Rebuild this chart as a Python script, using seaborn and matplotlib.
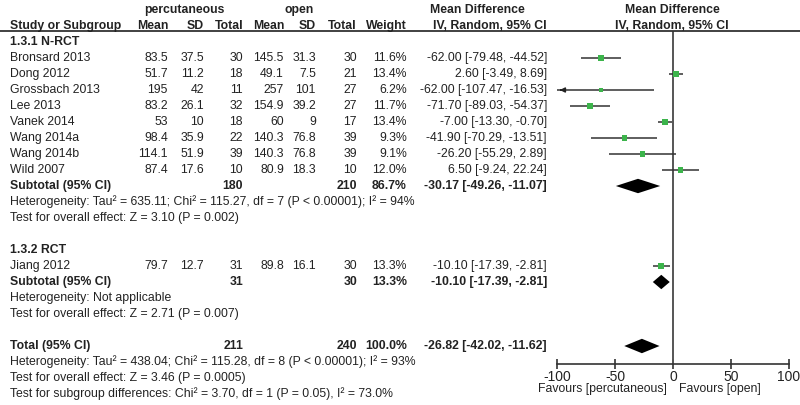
import matplotlib
matplotlib.use("Agg")
import matplotlib.pyplot as plt
import matplotlib.transforms as mtransforms
import seaborn as sns
import pandas as pd
import numpy as np

# ---- data ----
nrct_study = ["Bronsard 2013", "Dong 2012", "Grossbach 2013", "Lee 2013",
              "Vanek 2014", "Wang 2014a", "Wang 2014b", "Wild 2007"]
nrct_perc_mean = [83.5, 51.7, 195, 83.2, 53, 98.4, 114.1, 87.4]
nrct_perc_sd = [37.5, 11.2, 42, 26.1, 10, 35.9, 51.9, 17.6]
nrct_perc_n = [30, 18, 11, 32, 18, 22, 39, 10]
nrct_open_mean = [145.5, 49.1, 257, 154.9, 60, 140.3, 140.3, 80.9]
nrct_open_sd = [31.3, 7.5, 101, 39.2, 9, 76.8, 76.8, 18.3]
nrct_open_n = [30, 21, 27, 27, 17, 39, 39, 10]
nrct_weight = [11.6, 13.4, 6.2, 11.7, 13.4, 9.3, 9.1, 12.0]
nrct_md = [-62.00, 2.60, -62.00, -71.70, -7.00, -41.90, -26.20, 6.50]
nrct_lo = [-79.48, -3.49, -107.47, -89.03, -13.30, -70.29, -55.29, -9.24]
nrct_hi = [-44.52, 8.69, -16.53, -54.37, -0.70, -13.51, 2.89, 22.24]

rct_study = ["Jiang 2012"]
rct_perc_mean = [79.7]
rct_perc_sd = [12.7]
rct_perc_n = [31]
rct_open_mean = [89.8]
rct_open_sd = [16.1]
rct_open_n = [30]
rct_weight = [13.3]
rct_md = [-10.10]
rct_lo = [-17.39]
rct_hi = [-2.81]

# subtotals / total: n_perc, n_open, weight, md, lo, hi
sub_nrct = [180, 210, 86.7, -30.17, -49.26, -11.07]
sub_rct = [31, 30, 13.3, -10.10, -17.39, -2.81]
total = [211, 240, 100.0, -26.82, -42.02, -11.62]

het_nrct = "Heterogeneity: Tau\u00b2 = 635.11; Chi\u00b2 = 115.27, df = 7 (P < 0.00001); I\u00b2 = 94%"
eff_nrct = "Test for overall effect: Z = 3.10 (P = 0.002)"
het_rct = "Heterogeneity: Not applicable"
eff_rct = "Test for overall effect: Z = 2.71 (P = 0.007)"
het_tot = "Heterogeneity: Tau\u00b2 = 438.04; Chi\u00b2 = 115.28, df = 8 (P < 0.00001); I\u00b2 = 93%"
eff_tot = "Test for overall effect: Z = 3.46 (P = 0.0005)"
sub_diff = "Test for subgroup differences: Chi\u00b2 = 3.70, df = 1 (P = 0.05), I\u00b2 = 73.0%"

x_ticks = [-100, -50, 0, 50, 100]

# ---- layout ----
sns.set_theme(style="white")
plt.rcParams['font.family'] = ['Liberation Sans', 'DejaVu Sans']
FS = 8.8
W, H = 800, 405
ROW0, DY = 42, 16

fig = plt.figure(figsize=(8, 4.05), dpi=100)
ax = fig.add_axes([557 / W, 0, (789 - 557) / W, 1])
ax.set_xlim(x_ticks[0], x_ticks[-1])
ax.set_ylim((H - ROW0) / DY, -ROW0 / DY)
tr = mtransforms.blended_transform_factory(fig.transFigure, ax.transData)


def put(px, r, s, ha="right", bold=False, size=FS):
    ax.text(px / W, r, s, transform=tr, ha=ha, va="center", fontsize=size,
            fontweight="bold" if bold else "normal", color="#222222", clip_on=False)


# column right edges (px)
cols = [168, 204, 243, 284, 316, 357, 407]
CI_X = 547

# headers
put(184, -2, "percutaneous", ha="center", bold=True)
put(299, -2, "open", ha="center", bold=True)
put(477, -2, "Mean Difference", ha="center", bold=True)
put(672, -2, "Mean Difference", ha="center", bold=True)
put(10, -1, "Study or Subgroup", ha="left", bold=True)
for c, h in zip(cols, ["Mean", "SD", "Total", "Mean", "SD", "Total", "Weight"]):
    put(c, -1, h, bold=True)
put(CI_X, -1, "IV, Random, 95% CI", bold=True)
put(672, -1, "IV, Random, 95% CI", ha="center", bold=True)
ax.plot([0, 1], [-0.6875, -0.6875], transform=tr, color="#333333", lw=1.3, clip_on=False)


def study_rows(start, names, pm, psd, pn, om, osd, on, wt, md, lo, hi):
    rows = []
    for i, nm in enumerate(names):
        r = start + i
        put(10, r, nm, ha="left")
        vals = ["%g" % pm[i], "%g" % psd[i], "%d" % pn[i], "%g" % om[i], "%g" % osd[i],
                "%d" % on[i], "%.1f%%" % wt[i]]
        for c, v in zip(cols, vals):
            put(c, r, v)
        put(CI_X, r, "%.2f [%.2f, %.2f]" % (md[i], lo[i], hi[i]))
        rows.append(r)
    return pd.DataFrame({"study": names, "row": rows, "md": md, "lo": lo, "hi": hi, "weight": wt})


def subtotal_row(r, label, vals):
    put(10, r, label, ha="left", bold=True)
    put(cols[2], r, "%d" % vals[0], bold=True)
    put(cols[5], r, "%d" % vals[1], bold=True)
    put(cols[6], r, "%.1f%%" % vals[2], bold=True)
    put(CI_X, r, "%.2f [%.2f, %.2f]" % (vals[3], vals[4], vals[5]), bold=True)
    h = 0.45
    ax.fill([vals[4], vals[3], vals[5], vals[3]], [r, r - h, r, r + h],
            color="black", lw=0, zorder=4)


put(10, 0, "1.3.1 N-RCT", ha="left", bold=True)
d1 = study_rows(1, nrct_study, nrct_perc_mean, nrct_perc_sd, nrct_perc_n, nrct_open_mean,
                nrct_open_sd, nrct_open_n, nrct_weight, nrct_md, nrct_lo, nrct_hi)
subtotal_row(9, "Subtotal (95% CI)", sub_nrct)
put(10, 10, het_nrct, ha="left")
put(10, 11, eff_nrct, ha="left")

put(10, 13, "1.3.2 RCT", ha="left", bold=True)
d2 = study_rows(14, rct_study, rct_perc_mean, rct_perc_sd, rct_perc_n, rct_open_mean,
                rct_open_sd, rct_open_n, rct_weight, rct_md, rct_lo, rct_hi)
subtotal_row(15, "Subtotal (95% CI)", sub_rct)
put(10, 16, het_rct, ha="left")
put(10, 17, eff_rct, ha="left")

subtotal_row(19, "Total (95% CI)", total)
put(10, 20, het_tot, ha="left")
put(10, 21, eff_tot, ha="left")
put(10, 22, sub_diff, ha="left")

# ---- forest marks ----
df = pd.concat([d1, d2], ignore_index=True)
xmin = x_ticks[0]
lo_clip = df["lo"].clip(lower=xmin)
ax.hlines(df["row"], lo_clip, df["hi"], color="#333333", lw=1.1, zorder=2)
for _, s in df[df["lo"] < xmin].iterrows():
    ax.annotate("", xy=(xmin, s["row"]), xytext=(xmin + 6, s["row"]),
                arrowprops=dict(arrowstyle="-|>", color="#222222", lw=1.1,
                                mutation_scale=7), annotation_clip=False)
sns.scatterplot(data=df, x="md", y="row", size="weight", sizes=(9, 20), marker="s",
                color="#3cb44b", edgecolor="none", legend=False, ax=ax, zorder=3)

ax.vlines(0, -0.6875, 20.125, color="#555555", lw=1.4, zorder=1)

for sp in ["top", "left", "right"]:
    ax.spines[sp].set_visible(False)
ax.spines["bottom"].set_position(("data", 20.125))
ax.spines["bottom"].set_bounds(x_ticks[0], x_ticks[-1])
ax.spines["bottom"].set_color("#333333")
ax.spines["bottom"].set_linewidth(1.2)
ax.set_xticks(x_ticks)
ax.set_xticklabels([str(t) for t in x_ticks])
ax.tick_params(axis="x", direction="inout", length=7, width=1.2, color="#333333",
               labelsize=FS + 1.2, labelcolor="#222222", pad=1, bottom=True)
ax.set_yticks([])
ax.set_xlabel("")
ax.set_ylabel("")
ax.patch.set_alpha(0)

put(667, 21.7, "Favours [percutaneous]")
put(679, 21.7, "Favours [open]", ha="left")

fig.savefig("out.png", dpi=100)
